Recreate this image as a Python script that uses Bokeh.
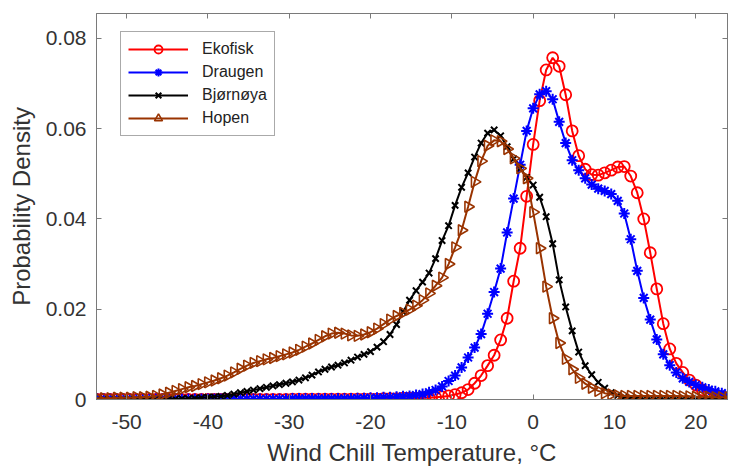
import math
from bokeh.plotting import figure
from bokeh.models import LinearAxis, FixedTicker, Range1d, CustomLabelingPolicy
from bokeh.embed import file_html
from bokeh.resources import INLINE

# ---- data ----
temp = [-54.4, -53.6, -52.8, -52.0, -51.2, -50.4, -49.6, -48.8, -48.0, -47.2,
        -46.4, -45.6, -44.8, -44.0, -43.2, -42.4, -41.6, -40.8, -40.0, -39.2,
        -38.4, -37.6, -36.8, -36.0, -35.2, -34.4, -33.6, -32.8, -32.0, -31.2,
        -30.4, -29.6, -28.8, -28.0, -27.2, -26.4, -25.6, -24.8, -24.0, -23.2,
        -22.4, -21.6, -20.8, -20.0, -19.2, -18.4, -17.6, -16.8, -16.0, -15.2,
        -14.4, -13.6, -12.8, -12.0, -11.2, -10.4, -9.6, -8.8, -8.0, -7.2,
        -6.4, -5.6, -4.8, -4.0, -3.2, -2.4, -1.6, -0.8, 0.0, 0.8,
        1.6, 2.4, 3.2, 4.0, 4.8, 5.6, 6.4, 7.2, 8.0, 8.8,
        9.6, 10.4, 11.2, 12.0, 12.8, 13.6, 14.4, 15.2, 16.0, 16.8,
        17.6, 18.4, 19.2, 20.0, 20.8, 21.6, 22.4, 23.2, 24.0]

ekofisk = [0.0, 0.0, 0.0, 0.0, 0.0, 0.0, 0.0, 0.0, 0.0, 0.0,
           0.0, 0.0, 0.0, 0.0, 0.0, 0.0, 0.0, 0.0, 0.0, 0.0,
           0.0, 0.0, 0.0, 0.0, 0.0, 0.0, 0.0, 0.0, 0.0, 0.0,
           0.0, 0.0001, 0.0001, 0.0001, 0.0001, 0.0001, 0.0001, 0.0001, 0.0001, 0.0001,
           0.0001, 0.0001, 0.0001, 0.0001, 0.0001, 0.0002, 0.0002, 0.0002, 0.0003, 0.0003,
           0.0003, 0.0004, 0.0004, 0.0005, 0.0006, 0.0008, 0.0011, 0.0015, 0.0022, 0.0036,
           0.0053, 0.0075, 0.0098, 0.0132, 0.0180, 0.0262, 0.0335, 0.0450, 0.0565, 0.0662,
           0.0730, 0.0757, 0.0738, 0.0675, 0.0595, 0.0540, 0.0510, 0.0498, 0.0497, 0.0502,
           0.0508, 0.0515, 0.0516, 0.0495, 0.0458, 0.0400, 0.0325, 0.0245, 0.0168, 0.0112,
           0.0080, 0.0060, 0.0043, 0.0032, 0.0021, 0.0013, 0.0008, 0.0005, 0.0003]

draugen = [0.0001, 0.0001, 0.0001, 0.0001, 0.0001, 0.0001, 0.0001, 0.0001, 0.0001, 0.0001,
           0.0001, 0.0001, 0.0001, 0.0001, 0.0001, 0.0001, 0.0001, 0.0001, 0.0001, 0.0001,
           0.0001, 0.0001, 0.0001, 0.0001, 0.0001, 0.0001, 0.0001, 0.0001, 0.0001, 0.0001,
           0.0001, 0.0002, 0.0002, 0.0002, 0.0002, 0.0002, 0.0002, 0.0002, 0.0002, 0.0002,
           0.0002, 0.0003, 0.0003, 0.0004, 0.0004, 0.0005, 0.0005, 0.0006, 0.0007, 0.0008,
           0.0010, 0.0012, 0.0016, 0.0021, 0.0029, 0.0041, 0.0053, 0.0071, 0.0093, 0.0115,
           0.0145, 0.0190, 0.0238, 0.0290, 0.0370, 0.0445, 0.0520, 0.0595, 0.0645, 0.0676,
           0.0683, 0.0665, 0.0615, 0.0568, 0.0530, 0.0508, 0.0490, 0.0476, 0.0467, 0.0462,
           0.0455, 0.0440, 0.0412, 0.0355, 0.0285, 0.0225, 0.0177, 0.0133, 0.0100, 0.0076,
           0.0060, 0.0047, 0.0039, 0.0032, 0.0027, 0.0022, 0.0018, 0.0014, 0.0011]

bjornoya = [0.0, 0.0, 0.0, 0.0, 0.0, 0.0, 0.0, 0.0, 0.0, 0.0,
            0.0, 0.0, 0.0001, 0.0001, 0.0002, 0.0002, 0.0003, 0.0004, 0.0005, 0.0006,
            0.0007, 0.0009, 0.0012, 0.0015, 0.0018, 0.0021, 0.0024, 0.0027, 0.0030, 0.0033,
            0.0036, 0.0039, 0.0043, 0.0048, 0.0054, 0.0061, 0.0067, 0.0072, 0.0076, 0.0081,
            0.0087, 0.0094, 0.0100, 0.0106, 0.0116, 0.0128, 0.0144, 0.0166, 0.0194, 0.0220,
            0.0241, 0.0260, 0.0280, 0.0312, 0.0352, 0.0385, 0.0430, 0.0470, 0.0502, 0.0537,
            0.0568, 0.0590, 0.0597, 0.0584, 0.0560, 0.0533, 0.0512, 0.0492, 0.0475, 0.0448,
            0.0405, 0.0345, 0.0265, 0.0205, 0.0152, 0.0105, 0.0075, 0.0055, 0.0038, 0.0025,
            0.0015, 0.0009, 0.0005, 0.0003, 0.0002, 0.0001, 0.0001, 0.0001, 0.0001, 0.0001,
            0.0001, 0.0001, 0.0001, 0.0001, 0.0001, 0.0001, 0.0001, 0.0001, 0.0001]

hopen = [0.0003, 0.0003, 0.0003, 0.0003, 0.0004, 0.0004, 0.0004, 0.0005, 0.0005, 0.0006,
         0.0008, 0.0011, 0.0015, 0.0019, 0.0023, 0.0027, 0.0030, 0.0034, 0.0038, 0.0042,
         0.0047, 0.0053, 0.0060, 0.0068, 0.0075, 0.0081, 0.0085, 0.0089, 0.0092, 0.0096,
         0.0100, 0.0104, 0.0110, 0.0117, 0.0124, 0.0132, 0.0140, 0.0146, 0.0148, 0.0146,
         0.0142, 0.0141, 0.0144, 0.0149, 0.0157, 0.0167, 0.0177, 0.0185, 0.0192, 0.0199,
         0.0208, 0.0220, 0.0235, 0.0252, 0.0270, 0.0300, 0.0337, 0.0375, 0.0427, 0.0482,
         0.0528, 0.0562, 0.0574, 0.0572, 0.0555, 0.0534, 0.0512, 0.0490, 0.0415, 0.0335,
         0.0250, 0.0180, 0.0125, 0.0090, 0.0067, 0.0048, 0.0035, 0.0026, 0.0019, 0.0014,
         0.0011, 0.0009, 0.0008, 0.0008, 0.0008, 0.0008, 0.0008, 0.0008, 0.0008, 0.0008,
         0.0008, 0.0007, 0.0007, 0.0006, 0.0006, 0.0006, 0.0005, 0.0005, 0.0005]

x_ticks = [-50, -40, -30, -20, -10, 0, 10, 20]
y_ticks = [0, 0.02, 0.04, 0.06, 0.08]
y_tick_labels = ["0", "0.02", "0.04", "0.06", "0.08"]

FONT = "Liberation Sans"
AXIS_COL = "#7a7a7a"
TEXT_COL = "#333333"

p = figure(width=735, height=468, output_backend="svg", toolbar_location=None,
           x_range=Range1d(-53.7, 23.9), y_range=Range1d(0, 0.0855),
           min_border_left=96, min_border_right=8, min_border_top=13, min_border_bottom=68)
p.outline_line_color = AXIS_COL
p.grid.visible = False
p.background_fill_color = "white"

series = [
    ("Ekofisk", ekofisk, "#ff0000", "circle", 11, 1.8, 0.0),
    ("Draugen", draugen, "#0000ff", "asterisk", 11, 2.0, 0.0),
    ("Bjørnøya", bjornoya, "#000000", "x", 9, 2.0, 0.0),
    ("Hopen", hopen, "#993300", "triangle", 11, 1.6, -math.pi / 2),
]
for name, ys, col, mk, sz, lw, ang in series:
    p.line(temp, ys, line_color=col, line_width=2, legend_label=name)
    p.scatter(temp, ys, marker=mk, size=sz, line_color=col, line_width=lw,
              fill_color=None, angle=ang, legend_label=name)

hide_labels = CustomLabelingPolicy(code="""
try { for (let i = 0; i < indices.size; i++) { indices.unset(i) } } catch (e) {}
return indices
""")

def style_axis(ax, show_labels):
    ax.axis_line_color = AXIS_COL
    ax.major_tick_line_color = AXIS_COL
    ax.major_tick_in = 5
    ax.major_tick_out = 0
    ax.minor_tick_line_color = None
    ax.major_label_text_font = FONT
    ax.major_label_text_color = TEXT_COL
    if show_labels:
        ax.major_label_text_font_size = "21px"
        ax.major_label_standoff = 8
    else:
        ax.major_label_text_font_size = "0px"
        ax.major_label_standoff = 0
        ax.major_label_policy = hide_labels

xa = p.xaxis[0]
xa.ticker = FixedTicker(ticks=x_ticks)
xa.major_label_overrides = {t: str(t) for t in x_ticks}
style_axis(xa, True)
xa.major_label_standoff = 15
xa.axis_label = "Wind Chill Temperature, °C"
xa.axis_label_text_font = FONT
xa.axis_label_text_font_size = "24px"
xa.axis_label_text_font_style = "normal"
xa.axis_label_text_color = TEXT_COL
xa.axis_label_standoff = 7

ya = p.yaxis[0]
ya.ticker = FixedTicker(ticks=y_ticks)
ya.major_label_overrides = {t: l for t, l in zip(y_ticks, y_tick_labels)}
style_axis(ya, True)
ya.major_label_standoff = 10
ya.axis_label = "Probability Density"
ya.axis_label_text_font = FONT
ya.axis_label_text_font_size = "24px"
ya.axis_label_text_font_style = "normal"
ya.axis_label_text_color = TEXT_COL
ya.axis_label_standoff = 8

top = LinearAxis(ticker=FixedTicker(ticks=x_ticks))
style_axis(top, False)
p.add_layout(top, "above")
right = LinearAxis(ticker=FixedTicker(ticks=y_ticks))
style_axis(right, False)
p.add_layout(right, "right")

lg = p.legend[0]
lg.location = (24, 263)
lg.label_text_font = FONT
lg.label_text_font_size = "16px"
lg.label_text_color = "#222222"
lg.glyph_width = 60
lg.glyph_height = 20
lg.label_height = 20
lg.spacing = 3
lg.padding = 7
lg.margin = 0
lg.label_standoff = 14
lg.border_line_color = "#555555"
lg.border_line_width = 1
lg.background_fill_alpha = 1.0

open("out.html", "w").write(file_html(p, INLINE))
